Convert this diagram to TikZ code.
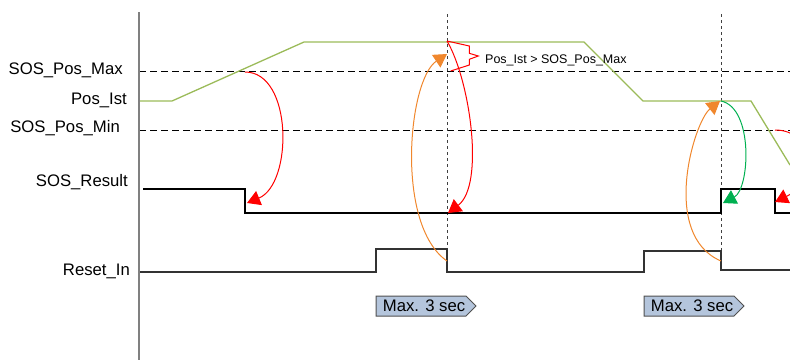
\documentclass[tikz,border=0pt]{standalone}
\usepackage{fontspec}
\setmainfont{Liberation Sans}
\usetikzlibrary{arrows.meta}
\definecolor{posgreen}{RGB}{155,187,89}
\definecolor{arrorange}{RGB}{240,135,45}
\definecolor{arrgreen}{RGB}{0,176,80}
\definecolor{boxfill}{RGB}{180,197,220}
\definecolor{boxdraw}{RGB}{80,80,80}
\definecolor{axisgray}{RGB}{128,128,128}
\tikzset{
  lbl/.style={font=\fontsize{16.7}{19}\selectfont, anchor=base east, inner sep=0pt},
  boxtxt/.style={font=\fontsize{16.7}{19}\selectfont, anchor=base west, inner sep=0pt},
  calltxt/.style={font=\fontsize{12.5}{15}\selectfont, anchor=base west, inner sep=0pt},
  sig/.style={line width=1.1pt, line join=miter},
  thr/.style={dash pattern=on 7pt off 4pt, line width=1pt, black},
  vmark/.style={dash pattern=on 3pt off 3pt, line width=1pt, black!75},
  curv/.style={line width=1pt, -{Triangle[length=13pt,width=15pt]}},
  secbox/.style={draw=boxdraw, fill=boxfill, line width=1pt, line join=miter},
}
\begin{document}
\begin{tikzpicture}[x=1pt,y=-1pt]
\useasboundingbox (0,0) rectangle (790,360);
\begin{scope}
\clip (0,0) rectangle (790,360);

% labels
\node[lbl] (lmax) at (123,74) {SOS\_Pos\_Max};
\node[lbl] (list) at (127,104.3) {Pos\_Ist};
\node[lbl] (lmin) at (120,132.7) {SOS\_Pos\_Min};
\node[lbl] (lres) at (128,186) {SOS\_Result};
\node[lbl] (lrst) at (130,275.3) {Reset\_In};

% thresholds
\coordinate (maxL) at (139,71); \coordinate (maxR) at (790,71);
\coordinate (minL) at (139,130); \coordinate (minR) at (790,130);
\draw[thr] (maxL) -- (maxR);
\draw[thr] (minL) -- (minR);

% vertical markers
\coordinate (v1t) at (447,14); \coordinate (v1b) at (447,249);
\coordinate (v2t) at (721,14); \coordinate (v2b) at (721,251);
\draw[vmark] (v1t) -- (v1b);
\draw[vmark] (v2t) -- (v2b);

% Pos_Ist
\draw[posgreen, line width=1.3pt] (139,101) -- (172,101) -- (304,42) -- (584,42)
  -- (643,101) -- (751,101) -- (790,165);

% SOS_Result
\draw[sig, black] (143,189) -- (245,189) -- (245,213) -- (721,213) -- (721,189)
  -- (775,189) -- (775,213) -- (790,213);

% Reset_In
\draw[sig, black!80] (139,272) -- (376,272) -- (376,249) -- (447,249) -- (447,272)
  -- (644,272) -- (644,251) -- (721,251) -- (721,270) -- (790,270);

% axis
\coordinate (axt) at (139,12); \coordinate (axb) at (139,360);
\draw[axisgray, line width=2pt] (axt) -- (axb);

% callout
\draw[red, line width=1pt, line join=miter] (447,41) -- (469.3,46) -- (469.3,53.3)
  -- (478.3,56) -- (469.3,59.3) -- (469.3,65) -- (450.7,71);
\node[calltxt] (call) at (485,63.3) {Pos\_Ist > SOS\_Pos\_Max};

% curved arrows
\coordinate (r1s) at (245,72);  \coordinate (r1e) at (247,203);
\draw[curv, red] (r1s) .. controls (293,72) and (293,184) .. (r1e);

\coordinate (o1s) at (447,261); \coordinate (o1e) at (447,54);
\draw[curv, arrorange] (o1s) .. controls (395,225) and (408,80) .. (o1e);

\coordinate (r2s) at (447,41);  \coordinate (r2e) at (448,213);
\draw[curv, red] (r2s) .. controls (470,80) and (485,185) .. (r2e);

\coordinate (o2s) at (721,261); \coordinate (o2e) at (720,101);
\draw[curv, arrorange] (o2s) .. controls (660,235) and (694,121.5) .. (o2e);

\coordinate (g1s) at (721,101); \coordinate (g1e) at (723,203);
\draw[curv, arrgreen] (g1s) .. controls (754,108) and (749.7,189) .. (g1e);

\coordinate (r3s) at (775,130); \coordinate (r3e) at (775,202);
\draw[curv, red] (r3s) .. controls (815,130) and (816,182) .. (r3e);

% Max. 3 sec boxes
\draw[secbox] (376,296) -- (466,296) -- (476,306) -- (466,316) -- (376,316) -- cycle;
\node[boxtxt] (b1) at (382.7,311) {Max. 3 sec};
\draw[secbox] (644,296) -- (734,296) -- (744,306) -- (734,316) -- (644,316) -- cycle;
\node[boxtxt] (b2) at (650.7,311) {Max. 3 sec};
\end{scope}
\end{tikzpicture}
\end{document}
